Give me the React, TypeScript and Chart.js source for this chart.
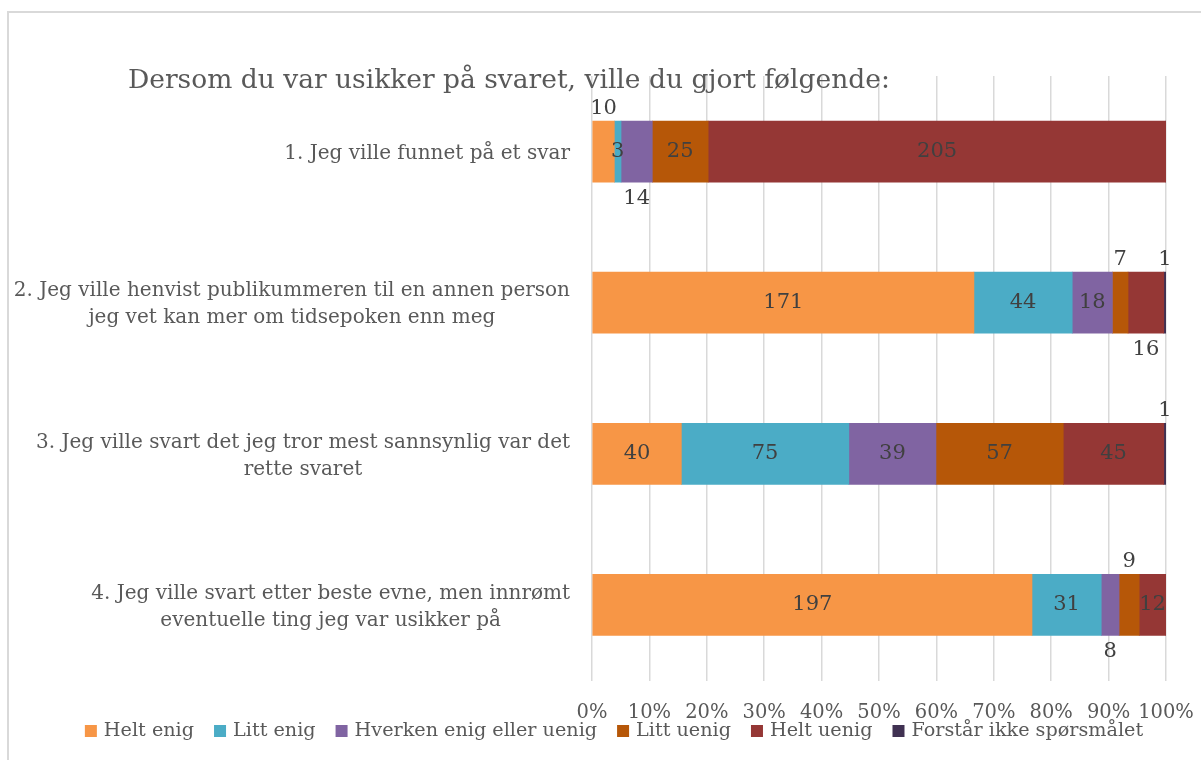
import React, { useEffect, useRef } from "react";
import { Chart, registerables } from "chart.js";

Chart.register(...registerables);

const categories: string[][] = [
  ["1. Jeg ville funnet på et svar"],
  ["2. Jeg ville henvist publikummeren til en annen person", "jeg vet kan mer om tidsepoken enn meg"],
  ["3. Jeg ville svart det jeg tror mest sannsynlig var det", "rette svaret"],
  ["4. Jeg ville svart etter beste evne, men innrømt", "eventuelle ting jeg var usikker på"],
];

const seriesNames = [
  "Helt enig",
  "Litt enig",
  "Hverken enig eller uenig",
  "Litt uenig",
  "Helt uenig",
  "Forstår ikke spørsmålet",
];

const heltEnig = [10, 171, 40, 197];
const littEnig = [3, 44, 75, 31];
const hverken = [14, 18, 39, 8];
const littUenig = [25, 7, 57, 9];
const heltUenig = [205, 16, 45, 12];
const forstarIkke = [0, 1, 1, 0];

const tickValues = [0, 10, 20, 30, 40, 50, 60, 70, 80, 90, 100];
const tickLabels = ["0%", "10%", "20%", "30%", "40%", "50%", "60%", "70%", "80%", "90%", "100%"];

const titleText = "Dersom du var usikker på svaret, ville du gjort følgende:";

const seriesColors = ["#F79646", "#4BACC6", "#8064A2", "#B65708", "#953735", "#403152"];

// where each data label sits relative to its segment
const labelPlacement = [
  ["above", "in", "in", "in"],
  ["in", "in", "in", "in"],
  ["below", "in", "in", "below"],
  ["in", "above", "in", "above"],
  ["in", "below", "in", "in"],
  ["none", "above", "above", "none"],
];

const FONT = "'DejaVu Serif', serif";
const TEXT_GREY = "#595959";
const LABEL_GREY = "#404040";

export default function App() {
  const ref = useRef<HTMLCanvasElement | null>(null);

  useEffect(() => {
    document.body.style.margin = "0";
    const canvas = ref.current;
    if (!canvas) return;
    const series = [heltEnig, littEnig, hverken, littUenig, heltUenig, forstarIkke];
    const totals = categories.map((_, i) => series.reduce((s, arr) => s + arr[i], 0));

    const framePlugin = {
      id: "frame",
      beforeDraw(chart: any) {
        const ctx = chart.ctx;
        ctx.save();
        ctx.fillStyle = "#ffffff";
        ctx.fillRect(0, 0, chart.width, chart.height);
        ctx.strokeStyle = "#D9D9D9";
        ctx.lineWidth = 2;
        ctx.strokeRect(8, 12, chart.width + 50, chart.height + 50);
        ctx.restore();
      },
    };

    const decorPlugin = {
      id: "decor",
      afterDatasetsDraw(chart: any) {
        const ctx = chart.ctx;
        ctx.save();
        // data labels
        ctx.font = `21px ${FONT}`;
        ctx.fillStyle = LABEL_GREY;
        ctx.textAlign = "center";
        ctx.textBaseline = "middle";
        chart.data.datasets.forEach((ds: any, di: number) => {
          const meta = chart.getDatasetMeta(di);
          meta.data.forEach((bar: any, i: number) => {
            const place = labelPlacement[di][i];
            if (place === "none") return;
            const raw = series[di][i];
            const cx = (bar.x + bar.base) / 2;
            let cy = bar.y;
            if (place === "above") cy = bar.y - bar.height / 2 - 13;
            if (place === "below") cy = bar.y + bar.height / 2 + 16;
            ctx.fillText(String(raw), cx, cy);
          });
        });
        ctx.restore();
      },
      afterDraw(chart: any) {
        const ctx = chart.ctx;
        ctx.save();
        // title
        ctx.font = `26.5px ${FONT}`;
        ctx.fillStyle = TEXT_GREY;
        ctx.textAlign = "left";
        ctx.textBaseline = "alphabetic";
        ctx.fillText(titleText, 128, 88);

        // category labels (centered lines, right-aligned block)
        const yScale = chart.scales.y;
        ctx.font = `20px ${FONT}`;
        ctx.textAlign = "center";
        ctx.textBaseline = "middle";
        const lineH = 27;
        categories.forEach((lines, i) => {
          const yc = yScale.getPixelForTick(i);
          const maxW = Math.max(...lines.map((l) => ctx.measureText(l).width));
          const cx = yScale.right - 22 - maxW / 2;
          const y0 = yc - ((lines.length - 1) * lineH) / 2 + 2;
          lines.forEach((l, k) => ctx.fillText(l, cx, y0 + k * lineH));
        });

        // legend
        ctx.font = `19.2px ${FONT}`;
        const box = 12;
        const gapBox = 7;
        const gapItem = 20;
        const widths = seriesNames.map((n) => ctx.measureText(n).width);
        const total = widths.reduce((s, w) => s + box + gapBox + w, 0) + gapItem * (seriesNames.length - 1);
        let x = 614 - total / 2;
        const ly = 731;
        ctx.textAlign = "left";
        seriesNames.forEach((n, i) => {
          ctx.fillStyle = seriesColors[i];
          ctx.fillRect(x, ly - box / 2, box, box);
          x += box + gapBox;
          ctx.fillStyle = TEXT_GREY;
          ctx.fillText(n, x, ly);
          x += widths[i] + gapItem;
        });
        ctx.restore();
      },
    };

    const chart = new Chart(canvas, {
      type: "bar",
      data: {
        labels: categories.map((c) => c.join(" ")),
        datasets: series.map((arr, di) => ({
          label: seriesNames[di],
          data: arr.map((v, i) => (v / totals[i]) * 100),
          backgroundColor: seriesColors[di],
          borderWidth: 0,
          barThickness: 61,
        })),
      },
      options: {
        indexAxis: "y",
        animation: false,
        responsive: false,
        layout: { padding: { top: 76, right: 35, left: 0, bottom: 0 } },
        plugins: {
          legend: { display: false },
          title: { display: false },
          tooltip: { enabled: false },
        },
        scales: {
          x: {
            stacked: true,
            min: 0,
            max: 100,
            afterFit: (s: any) => {
              s.height = 79.5;
              s.paddingLeft = 0;
              s.paddingRight = 0;
            },
            afterBuildTicks: (s: any) => {
              s.ticks = tickValues.map((v) => ({ value: v }));
            },
            ticks: {
              font: { family: FONT, size: 19.5 },
              color: TEXT_GREY,
              padding: 21,
              maxRotation: 0,
              autoSkip: false,
              callback: (_v: any, i: number) => tickLabels[i],
            },
            grid: { color: "#D9D9D9", lineWidth: 1.5, drawTicks: false },
            border: { display: false },
          },
          y: {
            stacked: true,
            afterFit: (s: any) => {
              s.width = 592;
            },
            ticks: { display: false },
            grid: { display: false, drawTicks: false },
            border: { display: false },
          },
        },
      },
      plugins: [framePlugin, decorPlugin],
    } as any);

    return () => chart.destroy();
  }, []);

  return (
    <div style={{ width: 1201, height: 760 }}>
      <canvas ref={ref} width={1201} height={760} />
    </div>
  );
}
